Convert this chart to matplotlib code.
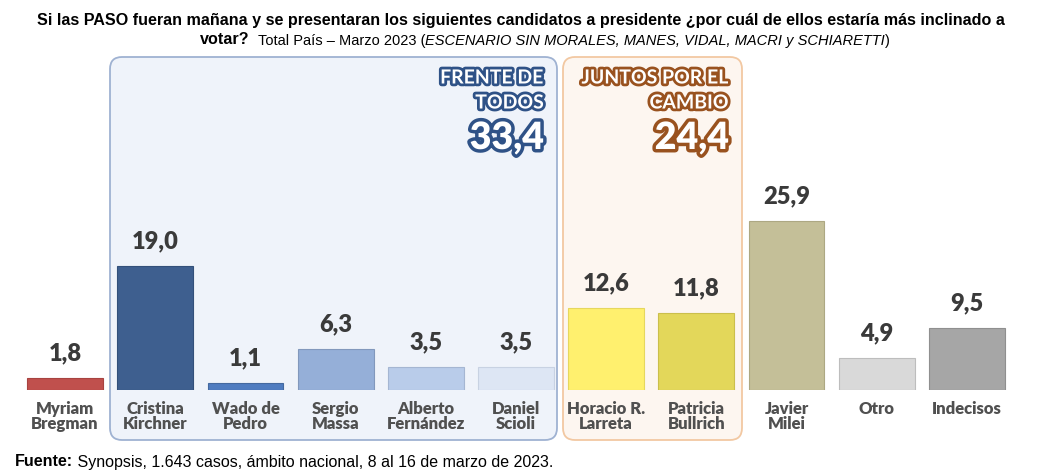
import numpy as np
import matplotlib.pyplot as plt
from matplotlib.patches import FancyBboxPatch
from matplotlib.transforms import IdentityTransform
import matplotlib.patheffects as pe

# datos
candidatos = ['Myriam\nBregman', 'Cristina\nKirchner', 'Wado de\nPedro', 'Sergio\nMassa',
              'Alberto\nFernández', 'Daniel\nScioli', 'Horacio R.\nLarreta', 'Patricia\nBullrich',
              'Javier\nMilei', 'Otro', 'Indecisos']
valores = [1.8, 19.0, 1.1, 6.3, 3.5, 3.5, 12.6, 11.8, 25.9, 4.9, 9.5]
colores = ['#C0504D', '#3E5F8F', '#4F7CC0', '#95AFD8', '#B9CCEA', '#DDE6F4',
           '#FFF06E', '#E3D75A', '#C4BF98', '#D9D9D9', '#A6A6A6']
bordes = ['#A84340', '#33507A', '#44699F', '#8298BC', '#A5B6D2', '#C8D2E2',
          '#E6D75E', '#CBBF4C', '#ADA883', '#BDBDBD', '#8F8F8F']
grupos = [(['FRENTE DE', 'TODOS'], '33,4'), (['JUNTOS POR EL', 'CAMBIO'], '24,4')]

W, H = 1041, 474
fig = plt.figure(figsize=(W/100, H/100), dpi=100)
fig.patch.set_facecolor('white')

px = 6.52  # pixeles por punto
ax = fig.add_axes([20/W, 84/H, 992/W, 45*px/H])
ax.patch.set_visible(False)
x = np.arange(len(valores))
ax.bar(x, valores, width=0.84, color=colores, edgecolor=bordes, linewidth=0.8, zorder=3)
ax.set_xlim(-0.5, len(valores) - 0.5)
ax.set_ylim(0, 45)
for s in ax.spines.values():
    s.set_visible(False)
ax.set_yticks([])
ax.set_xticks(x)
ax.set_xticklabels(candidatos, fontfamily='Lato', fontweight='heavy', fontsize=12,
                   color='#505050', linespacing=0.95)
ax.tick_params(axis='x', length=0, pad=8)

for xi, v in zip(x, valores):
    ax.annotate(f'{v:.1f}'.replace('.', ','), (xi, v), xytext=(0, 10), textcoords='offset points',
                ha='center', va='bottom', fontfamily='Lato', fontweight='heavy', fontsize=17,
                color='#3A3A3A')

# cajas de los frentes (pixeles)
def caja(x0, x1, fc, ec):
    b = FancyBboxPatch((x0, 34), x1 - x0, 383, boxstyle='round,pad=0,rounding_size=12',
                       transform=IdentityTransform(), facecolor=fc, edgecolor=ec,
                       linewidth=1.3, zorder=-1)
    fig.add_artist(b)

caja(110, 557, '#EFF3FA', '#9FB2D2')
caja(563, 742, '#FDF6F0', '#F2C8A2')

def etiqueta(xr, lineas, total, borde):
    efecto = [pe.withStroke(linewidth=4, foreground=borde)]
    for i, linea in enumerate(lineas):
        fig.text(xr/W, 1 - (78 + 25*i)/H, linea, ha='right', va='center', fontfamily='Lato',
                 fontweight='bold', fontsize=14, color='white', path_effects=efecto)
    fig.text(xr/W, 1 - 155/H, total, ha='right', va='bottom', fontfamily='Lato', fontweight='heavy',
             fontsize=27, color='white', path_effects=[pe.withStroke(linewidth=5, foreground=borde)])

etiqueta(544, grupos[0][0], grupos[0][1], '#2F5287')
etiqueta(729, grupos[1][0], grupos[1][1], '#99521F')

# titulo
fam = 'Liberation Sans'
fig.text(521/W, 1 - 20/H, 'Si las PASO fueran mañana y se presentaran los siguientes candidatos a presidente '
         '¿por cuál de ellos estaría más inclinado a', ha='center', va='center',
         fontfamily=fam, fontweight='bold', fontsize=11.6, color='black')
t = fig.text(200/W, 1 - 40/H, 'votar?', ha='left', va='center', fontfamily=fam,
             fontweight='bold', fontsize=11.6)
t = ax.annotate('  Total País – Marzo 2023 (', xy=(1, 0), xycoords=t, va='bottom',
                fontfamily=fam, fontsize=10.5, annotation_clip=False)
t = ax.annotate('ESCENARIO SIN MORALES, MANES, VIDAL, MACRI y SCHIARETTI', xy=(1, 0), xycoords=t,
                va='bottom', fontfamily=fam, fontstyle='italic', fontsize=10.5, annotation_clip=False)
ax.annotate(')', xy=(1, 0), xycoords=t, va='bottom', fontfamily=fam, fontsize=10.5,
            annotation_clip=False)

# fuente
f = fig.text(15/W, 1 - 462/H, 'Fuente:', ha='left', va='center', fontfamily='Liberation Sans',
             fontweight='bold', fontsize=11.5)
ax.annotate(' Synopsis, 1.643 casos, ámbito nacional, 8 al 16 de marzo de 2023.', xy=(1, 0),
            xycoords=f, va='bottom', fontfamily='Liberation Sans', fontsize=11.5,
            annotation_clip=False)

fig.savefig('out.png', dpi=100)
